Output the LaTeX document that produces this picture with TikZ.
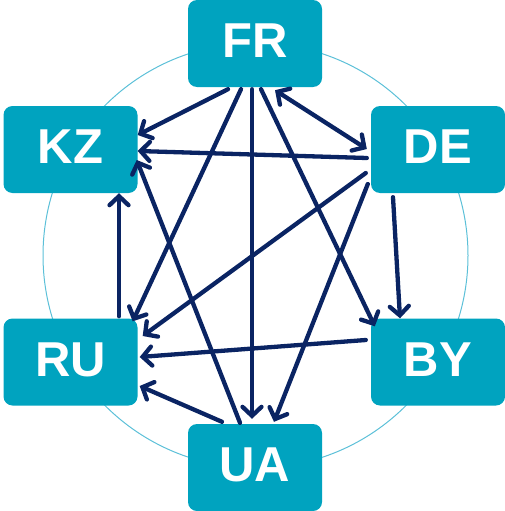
\documentclass[tikz,border=0pt]{standalone}
\usepackage{fontspec}
\setmainfont{Liberation Sans}
\usetikzlibrary{arrows.meta}
\definecolor{boxc}{HTML}{00A3BF}
\definecolor{ringc}{HTML}{5CC0D8}
\definecolor{navy}{HTML}{0A2463}
\begin{document}
\begin{tikzpicture}[x=1pt,y=-1pt,
  country/.style={fill=boxc,rounded corners=9pt,inner sep=0pt,minimum width=134pt,minimum height=87pt,
    text=white,font=\fontsize{49}{49}\selectfont\bfseries,text height=35pt,text depth=7pt},
  link/.style={draw=navy,line width=4.3pt,line cap=round,-{Straight Barb[length=9pt,width=19pt,line cap=round]}},
  blink/.style={draw=navy,line width=4.3pt,line cap=round,{Straight Barb[length=9pt,width=19pt,line cap=round]}-{Straight Barb[length=9pt,width=19pt,line cap=round]}}]
\useasboundingbox (0,0) rectangle (505,511);
\draw[ringc,line width=1pt] (255.5,255.5) circle (212.5);
\node[country] (FR) at (255,43.5) {FR};
\node[country] (KZ) at (70.5,149.5) {KZ};
\node[country] (DE) at (438,149.5) {DE};
\node[country] (RU) at (70.5,362) {RU};
\node[country] (BY) at (438,362) {BY};
\node[country] (UA) at (255,467.5) {UA};
% pixel offsets: (dx, dy) with dy downward
\draw[link] ([shift={(-27,2)}]FR.south) -- ([shift={(0,-14.5)}]KZ.east);
\draw[link] ([shift={(-4,8.5)}]DE.west) -- ([shift={(0,1.5)}]KZ.east);
\draw[blink] ([shift={(20,3)}]FR.south) -- ([shift={(-4,-0.5)}]DE.west);
\draw[link] ([shift={(48.5,-2)}]RU.north) -- ([shift={(48.5,0)}]KZ.south);
\draw[link] ([shift={(-15,-1)}]UA.north) -- ([shift={(-1,10.5)}]KZ.east);
\draw[link] ([shift={(-14,2)}]FR.south) -- ([shift={(-5,3)}]RU.north east);
\draw[link] ([shift={(-3,2)}]FR.south) -- ([shift={(-3,-5)}]UA.north);
\draw[link] ([shift={(6,2)}]FR.south) -- ([shift={(4,8)}]BY.north west);
\draw[link] ([shift={(-5,23.5)}]DE.west) -- ([shift={(5,-26)}]RU.east);
\draw[link] ([shift={(-3,34.5)}]DE.west) -- ([shift={(19,-2)}]UA.north);
\draw[link] ([shift={(-45,4)}]DE.south) -- ([shift={(-38,0)}]BY.north);
\draw[link] ([shift={(-5,-22)}]BY.west) -- ([shift={(2,-5)}]RU.east);
\draw[link] ([shift={(-33,-2)}]UA.north) -- ([shift={(2,24)}]RU.east);
\end{tikzpicture}
\end{document}
